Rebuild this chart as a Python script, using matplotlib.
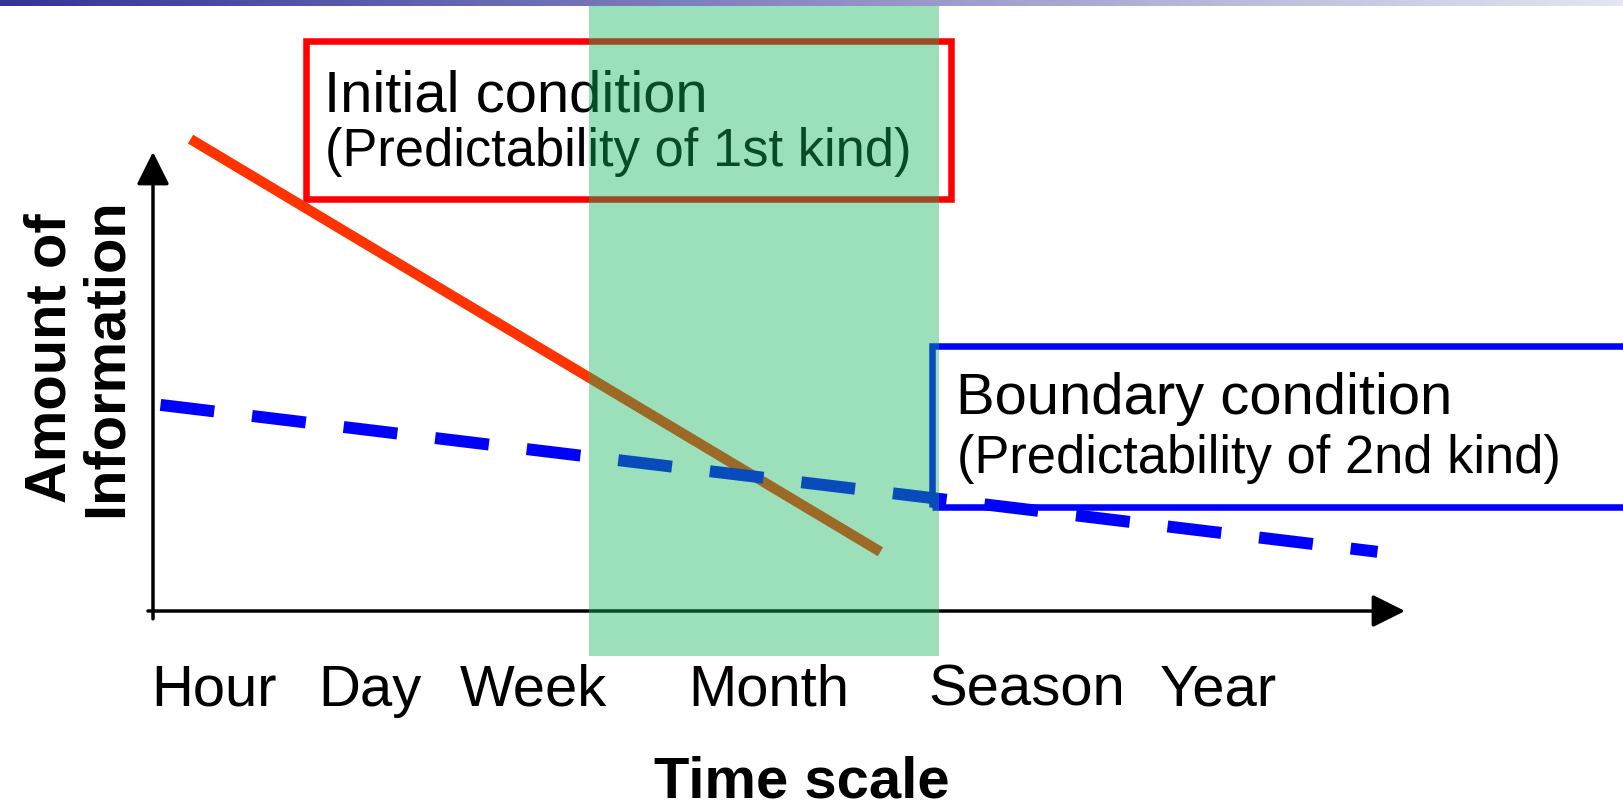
import matplotlib
matplotlib.use("Agg")
import matplotlib.pyplot as plt
import numpy as np
from matplotlib.colors import LinearSegmentedColormap
from matplotlib.patches import Rectangle

plt.rcParams["font.family"] = ["Liberation Sans", "DejaVu Sans"]

W, H = 1624, 809

# time axis categories and where they sit on the (arbitrary) time scale
time_labels = ["Hour", "Day", "Week", "Month", "Season", "Year"]
time_pos = [0.49, 1.73, 3.04, 4.92, 6.98, 8.51]

# amount of information, arbitrary units
initial_x = [0.30, 5.81]
initial_y = [10.28, 1.29]
boundary_x = [0.06, 9.78]
boundary_y = [4.49, 1.29]

# highlighted window (week..season)
window_x = [3.48, 6.28]
window_y = [-0.98, 13.18]

# label boxes
initial_box = [1.22, 8.98, 6.37, 12.42]   # x0, y0, x1, y1
boundary_box = [6.22, 2.27, 14.0, 5.78]


def fx(px):
    return px / W


def fy(py):
    return 1 - py / H


fig = plt.figure(figsize=(W / 100, H / 100), dpi=100)

# thin gradient bar along the top
bar = fig.add_axes([0, 1 - 6 / H, 1, 6 / H])
grad_cmap = LinearSegmentedColormap.from_list("bar", ["#333399", "#E4E6F0"])
bar.imshow(np.linspace(0, 1, 256)[None, :], cmap=grad_cmap, aspect="auto")
bar.axis("off")

ax = fig.add_axes([fx(153), fy(611), fx(1405) - fx(153), fy(152) - fy(611)])
ax.set_xlim(0, 10)
ax.set_ylim(0, 10)
for s in ax.spines.values():
    s.set_visible(False)
ax.set_yticks([])
ax.set_xticks(time_pos, time_labels, fontsize=41.8)
ax.tick_params(axis="x", length=0, pad=38)
ax.patch.set_alpha(0)

# axes with arrow heads
arrow_kw = dict(arrowstyle="-|>", lw=2.5, color="black", shrinkA=0, shrinkB=0,
                mutation_scale=50)
ax.annotate("", xy=(10, 0), xytext=(-0.04, 0), arrowprops=arrow_kw,
            annotation_clip=False, zorder=2)
ax.annotate("", xy=(0, 10), xytext=(0, -0.17), arrowprops=arrow_kw,
            annotation_clip=False, zorder=2)

x0, y0, x1, y1 = initial_box
ax.add_patch(Rectangle((x0, y0), x1 - x0, y1 - y0, fill=False, edgecolor="#FF0000",
                       lw=4.7, clip_on=False, zorder=3))
x0, y0, x1, y1 = boundary_box
ax.add_patch(Rectangle((x0, y0), x1 - x0, y1 - y0, fill=False,
                       edgecolor="#0000FF", lw=4.7, clip_on=False, zorder=3))

ax.plot(initial_x, initial_y, color="#FF3300", lw=7.4, solid_capstyle="butt",
        clip_on=False, zorder=4)
ax.plot(boundary_x, boundary_y, color="#0000FF", lw=8.6, dashes=(4.53, 3.19),
        dash_capstyle="butt", clip_on=False, zorder=4)

tf = fig.transFigure
ax.text(fx(324), fy(112), "Initial condition", fontsize=41.8, va="baseline",
        transform=tf, zorder=5)
ax.text(fx(325), fy(166), "(Predictability of 1st kind)", fontsize=37.8,
        va="baseline", transform=tf, zorder=5)
ax.text(fx(956), fy(414), "Boundary condition", fontsize=41.8, va="baseline",
        transform=tf, zorder=5)
ax.text(fx(957), fy(473), "(Predictability of 2nd kind)", fontsize=37.8,
        va="baseline", transform=tf, zorder=5)

# translucent green window on top of everything
ax.add_patch(Rectangle((window_x[0], window_y[0]), window_x[1] - window_x[0],
                       window_y[1] - window_y[0], facecolor="#15B55F", alpha=0.42,
                       lw=0, clip_on=False, zorder=10))

fig.text(fx(802), fy(797), "Time scale", fontsize=41.8, fontweight="bold",
         ha="center", va="baseline")
fig.text(fx(79), fy(358), "Amount of\nInformation", fontsize=41.8,
         fontweight="bold", rotation=90, ha="center", va="center",
         multialignment="center", linespacing=1.05)

fig.savefig("out.png", dpi=100)
